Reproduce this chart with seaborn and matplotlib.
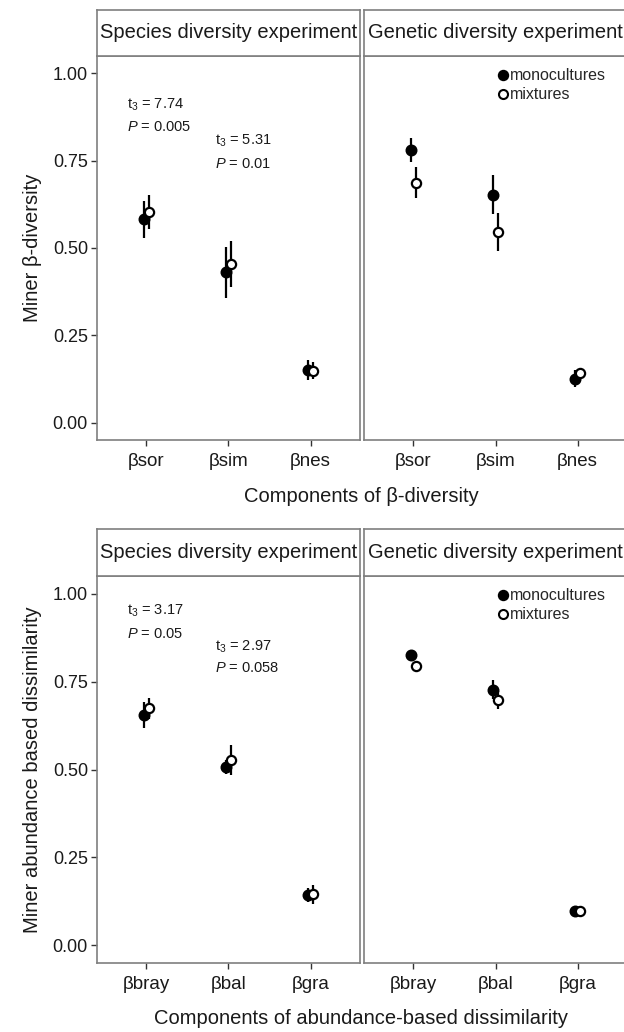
import numpy as np
import pandas as pd
import matplotlib
matplotlib.use("Agg")
import matplotlib.pyplot as plt
from matplotlib.lines import Line2D
import seaborn as sns

# ---------------- data ----------------
experiments = ["Species diversity experiment", "Genetic diversity experiment"]
groups = ["monocultures", "mixtures"]

comp_beta = ["βsor", "βsim", "βnes"]
beta_sp_mono = [0.582, 0.430, 0.151]
beta_sp_mono_se = [0.052, 0.073, 0.028]
beta_sp_mix = [0.603, 0.455, 0.149]
beta_sp_mix_se = [0.049, 0.066, 0.025]
beta_gen_mono = [0.780, 0.652, 0.126]
beta_gen_mono_se = [0.035, 0.056, 0.025]
beta_gen_mix = [0.687, 0.546, 0.141]
beta_gen_mix_se = [0.045, 0.055, 0.012]

comp_abund = ["βbray", "βbal", "βgra"]
ab_sp_mono = [0.655, 0.508, 0.144]
ab_sp_mono_se = [0.038, 0.020, 0.020]
ab_sp_mix = [0.674, 0.527, 0.146]
ab_sp_mix_se = [0.030, 0.043, 0.027]
ab_gen_mono = [0.826, 0.727, 0.097]
ab_gen_mono_se = [0.012, 0.027, 0.008]
ab_gen_mix = [0.795, 0.697, 0.097]
ab_gen_mix_se = [0.012, 0.026, 0.008]

yticks = [0.00, 0.25, 0.50, 0.75, 1.00]

# annotations: (x, y, text) in data coords of the species panel
ann_beta = [(0.77, 0.910, r"t$_3$ = 7.74"), (0.77, 0.848, r"$P$ = 0.005"),
            (1.84, 0.807, r"t$_3$ = 5.31"), (1.84, 0.742, r"$P$ = 0.01")]
ann_abund = [(0.77, 0.950, r"t$_3$ = 3.17"), (0.77, 0.885, r"$P$ = 0.05"),
             (1.84, 0.850, r"t$_3$ = 2.97"), (1.84, 0.788, r"$P$ = 0.058")]

# ---------------- style ----------------
sns.set_theme(style="white")
plt.rcParams["font.family"] = ["Liberation Sans", "DejaVu Sans"]
plt.rcParams["mathtext.fontset"] = "custom"
plt.rcParams["mathtext.rm"] = "Liberation Sans"
plt.rcParams["mathtext.it"] = "Liberation Sans:italic"
plt.rcParams["mathtext.bf"] = "Liberation Sans:bold"

BORDER = "#7f7f7f"
TXT = "#1a1a1a"
W, H = 624, 1032
fig = plt.figure(figsize=(W / 100, H / 100), dpi=100)


def frac_box(x0, y0, x1, y1):
    return [x0 / W, 1 - y1 / H, (x1 - x0) / W, (y1 - y0) / H]


def make_df(cats, mono, mono_se, mix, mix_se):
    rows = []
    for g, vals, ses in [("monocultures", mono, mono_se), ("mixtures", mix, mix_se)]:
        for i, (c, v, s) in enumerate(zip(cats, vals, ses)):
            rows.append({"component": c, "idx": i + 1, "group": g, "value": v, "se": s})
    df = pd.DataFrame(rows)
    df["xpos"] = df["idx"] + df["group"].map({"monocultures": -0.03, "mixtures": 0.03})
    return df


def draw_panel(ax, df, cats, show_y):
    for g in groups:
        d = df[df.group == g]
        ax.vlines(d["xpos"], d["value"] - d["se"], d["value"] + d["se"],
                  color="black", lw=1.6, zorder=2)
    sns.scatterplot(data=df[df.group == "monocultures"], x="xpos", y="value", ax=ax,
                    color="black", edgecolor="black", linewidth=1.4, s=52,
                    zorder=3, legend=False)
    sns.scatterplot(data=df[df.group == "mixtures"], x="xpos", y="value", ax=ax,
                    color="white", edgecolor="black", linewidth=1.6, s=44,
                    zorder=4, legend=False)
    ax.set_xlim(0.4, 3.6)
    ax.set_ylim(-0.05, 1.05)
    ax.set_xticks(range(1, len(cats) + 1))
    ax.set_xticklabels(cats, fontsize=13.5, color=TXT)
    ax.set_yticks(yticks)
    ax.tick_params(axis="both", direction="out", length=4.5, width=1,
                   color="#333333", bottom=True, left=True)
    ax.tick_params(axis="x", pad=5)
    ax.tick_params(axis="y", pad=2)
    if show_y:
        ax.set_yticklabels([f"{t:.2f}" for t in yticks], fontsize=13, color=TXT)
    else:
        ax.set_yticklabels([])
        ax.tick_params(axis="y", left=False, length=0)
    ax.set_xlabel("")
    ax.set_ylabel("")
    for sp in ax.spines.values():
        sp.set_color(BORDER)
        sp.set_linewidth(1.2)
    ax.set_facecolor("white")
    ax.grid(False)


def strip(box, label):
    sax = fig.add_axes(frac_box(*box))
    sax.set_xticks([])
    sax.set_yticks([])
    sax.set_facecolor("white")
    for sp in sax.spines.values():
        sp.set_color(BORDER)
        sp.set_linewidth(1.2)
    sax.text(0.5, 0.5, label, ha="center", va="center", fontsize=14.5, color=TXT,
             transform=sax.transAxes)


def legend(ax):
    handles = [Line2D([], [], marker="o", ls="", color="black", mfc="black", mec="black",
                      ms=7, mew=1.2),
               Line2D([], [], marker="o", ls="", color="black", mfc="white", mec="black",
                      ms=6.5, mew=1.5)]
    ax.legend(handles, groups, loc="upper left", bbox_to_anchor=(0.515, 0.968),
              frameon=False, fontsize=11.5, handlelength=0.5, handletextpad=0.15,
              labelspacing=0.25, borderpad=0, borderaxespad=0)


rows = [
    dict(cats=comp_beta, top=56, bot=440, strip_top=10,
         data=[(beta_sp_mono, beta_sp_mono_se, beta_sp_mix, beta_sp_mix_se),
               (beta_gen_mono, beta_gen_mono_se, beta_gen_mix, beta_gen_mix_se)],
         ann=ann_beta, ylabel="Miner β-diversity", xlabel="Components of β-diversity",
         xlab_y=497),
    dict(cats=comp_abund, top=576, bot=963, strip_top=529,
         data=[(ab_sp_mono, ab_sp_mono_se, ab_sp_mix, ab_sp_mix_se),
               (ab_gen_mono, ab_gen_mono_se, ab_gen_mix, ab_gen_mix_se)],
         ann=ann_abund, ylabel="Miner abundance based dissimilarity",
         xlabel="Components of abundance-based dissimilarity", xlab_y=1018),
]

panel_x = [(97, 360), (364, 627)]

for r in rows:
    for j, (x0, x1) in enumerate(panel_x):
        ax = fig.add_axes(frac_box(x0, r["top"], x1, r["bot"]))
        df = make_df(r["cats"], *r["data"][j])
        draw_panel(ax, df, r["cats"], show_y=(j == 0))
        strip((x0, r["strip_top"], x1, r["top"]), experiments[j])
        if j == 0:
            for (x, y, t) in r["ann"]:
                ax.text(x, y, t, fontsize=10.5, color=TXT, ha="left", va="center")
            ax.set_ylabel(r["ylabel"], fontsize=14.5, color=TXT, labelpad=8)
        else:
            legend(ax)
    fig.text(361 / W, 1 - r["xlab_y"] / H, r["xlabel"], ha="center", va="center",
             fontsize=14.5, color=TXT)

fig.savefig("out.png", dpi=100, facecolor="white")
